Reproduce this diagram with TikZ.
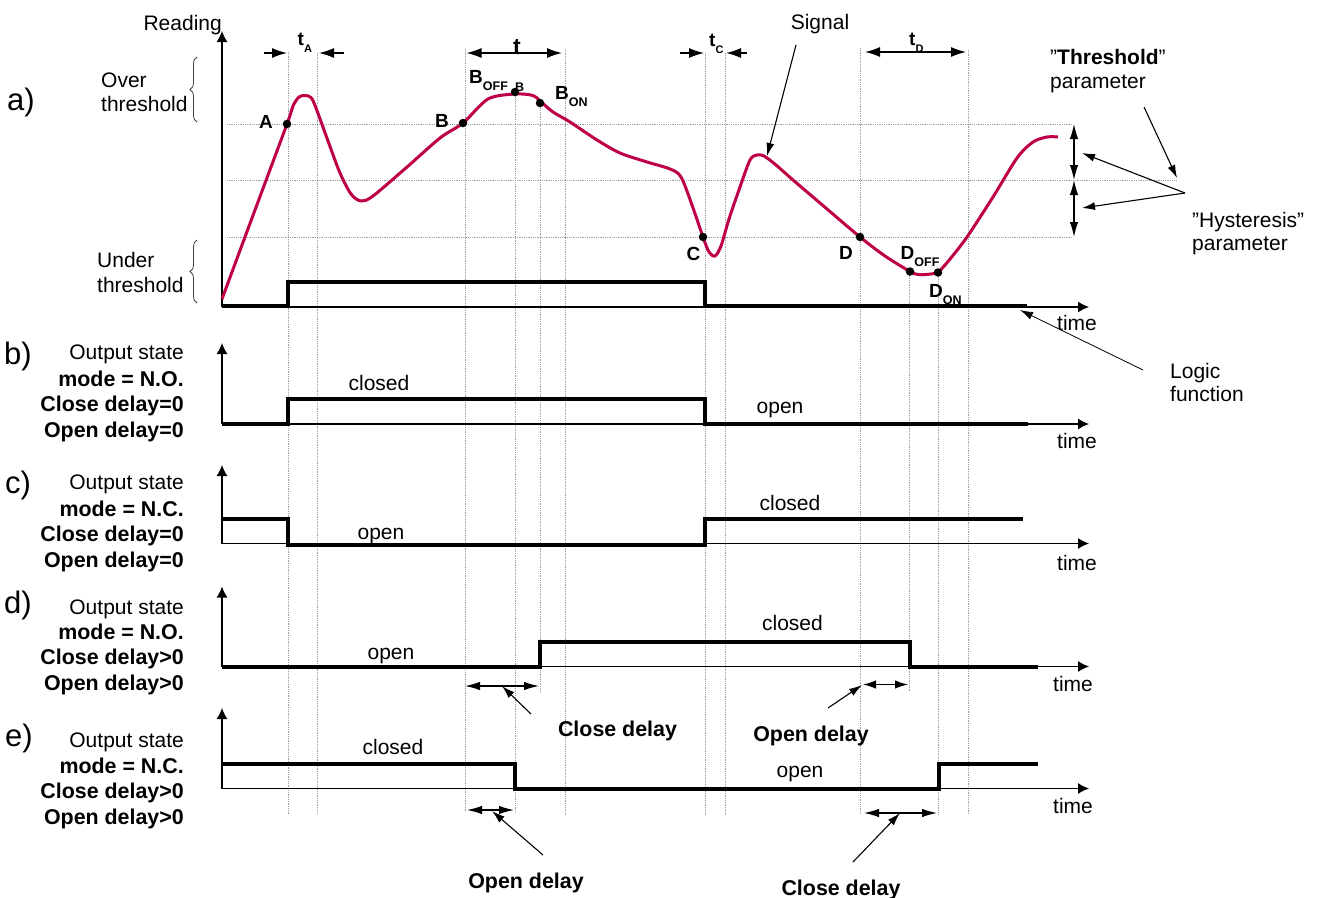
\documentclass[tikz,border=0pt]{standalone}
\usepackage{fontspec}
\setmainfont{Liberation Sans}
\usetikzlibrary{arrows.meta,decorations.pathreplacing}
\definecolor{sig}{RGB}{190,0,72}
\newcommand\lowsub[1]{\raisebox{-7pt}{\fontsize{12.5}{14}\selectfont\bfseries #1}}
\newcommand\tsub[1]{\raisebox{-7pt}{\fontsize{11}{13}\selectfont\bfseries #1}}
\begin{document}
\begin{tikzpicture}[x=1pt,y=-1pt,
  txt/.style={font=\fontsize{21}{24}\selectfont, inner sep=0pt},
  btxt/.style={font=\fontsize{21.4}{24}\selectfont\bfseries, inner sep=0pt},
  big/.style={font=\fontsize{31}{36}\selectfont, inner sep=0pt, anchor=base west},
  ptlbl/.style={font=\fontsize{19}{22}\selectfont\bfseries, inner sep=0pt, anchor=base west},
  gridln/.style={draw=gray!75, line width=0.8pt, densely dotted},
  axis/.style={line width=1.2pt, -{Latex[length=11pt,width=11pt]}},
  logic/.style={line width=4pt, line join=miter},
  dbl/.style={line width=1.3pt, {Latex[length=15pt,width=10pt]}-{Latex[length=15pt,width=10pt]}},
  sgl/.style={line width=1.3pt, -{Latex[length=15pt,width=10pt]}},
  ptr/.style={line width=1.1pt, -{Latex[length=13pt,width=8pt]}},
  thinptr/.style={line width=0.8pt, -{Latex[length=13pt,width=8pt]}},
  dotn/.style={circle, fill=black, inner sep=0pt, minimum size=8.5pt},
  brc/.style={draw=gray!50!black, line width=0.8pt, decorate, decoration={brace, amplitude=7pt}},
]
\useasboundingbox (0,0) rectangle (1320,897);

% ---------- grid lines ----------
\draw[gridln] (227,124) -- (1073,124);
\draw[gridln] (227,180) -- (1177,180);
\draw[gridln] (227,237) -- (1073,237);
\draw[gridln] (288,52) -- (288,814);
\draw[gridln] (317,53) -- (317,814);
\draw[gridln] (465,49) -- (465,812);
\draw[gridln] (515,92) -- (515,813);
\draw[gridln] (540,103) -- (540,692);
\draw[gridln] (565,49) -- (565,815);
\draw[gridln] (705,53) -- (705,815);
\draw[gridln] (725,53) -- (725,815);
\draw[gridln] (860,48) -- (860,814);
\draw[gridln] (909,271) -- (909,692);
\draw[gridln] (938,272) -- (938,814);
\draw[gridln] (968,50) -- (968,814);

% ---------- axes ----------
\coordinate (oa) at (222,307); \coordinate (ya) at (222,31); \coordinate (xa) at (1089,307);
\coordinate (ob) at (222,424); \coordinate (yb) at (222,343); \coordinate (xb) at (1089,424);
\coordinate (oc) at (222,543.5); \coordinate (yc) at (222,465); \coordinate (xc) at (1089,543.5);
\coordinate (od) at (222,666.5); \coordinate (yd) at (222,586.5); \coordinate (xd) at (1089,666.5);
\coordinate (oe) at (222,788.5); \coordinate (ye) at (222,708); \coordinate (xe) at (1089,788.5);
\foreach \s in {a,b,c,d,e}{
  \draw[axis] (o\s) -- (y\s);
  \draw[axis] (o\s) -- (x\s);
}

% ---------- logic traces ----------
\draw[logic] (222,305.5) -| (288,282) -| (705,306) -- (1027,306);
\draw[logic] (222,423.5) -| (288,398.5) -| (705,424) -- (1028,424);
\draw[logic] (222,518.5) -| (288,545) -| (705,518.5) -- (1023,518.5);
\draw[logic] (222,666.5) -| (540,641.5) -| (910,666.5) -- (1038,666.5);
\draw[logic] (222,763.5) -| (515,789) -| (939,763.5) -- (1038,763.5);

% ---------- signal ----------
\draw[sig, line width=3pt, line join=round] plot[smooth, tension=0.5] coordinates {
(222,299) (255,210) (287,124) (293,106) (299,97) (305,95.5) (311,97.5) (316,108)
(328,141) (340,173) (351,194) (361,201) (373,196) (407,167) (440,138) (463,123)
(488,99) (515,94) (533,95.5) (540,101) (553,112) (570,122) (597,140) (620,153)
(647,162) (670,169) (681,177) (692,205) (703,237) (709,252) (715,256) (721,246)
(729,219) (740,187) (750,160) (757,155) (764,156) (776,165) (793,180) (820,203)
(860,237) (885,256) (910,271.5) (918,274.5) (926,274.5) (938,272) (950,259)
(967,237) (993,197) (1017,158) (1033,142) (1047,137) (1058,137)};

% ---------- dots ----------
\node[dotn] (dA) at (287,124) {};
\node[dotn] (dB) at (463,123) {};
\node[dotn] (dBp) at (515,92) {};
\node[dotn] (dBon) at (540,103) {};
\node[dotn] (dC) at (703,237) {};
\node[dotn] (dD) at (860,237) {};
\node[dotn] (dDoff) at (910,271.5) {};
\node[dotn] (dDon) at (938,272.5) {};

% ---------- point labels ----------
\node[ptlbl] (lA) at (259,128.3) {A};
\node[ptlbl] (lB) at (435,127.7) {B};
\node[ptlbl] (lBoff) at (469,83.3) {B\lowsub{OFF}};
\node[ptlbl, font=\fontsize{12.5}{14}\selectfont\bfseries] (lBs) at (515,91) {B};
\node[ptlbl] (lBon) at (555,99) {B\lowsub{ON}};
\node[ptlbl] (lC) at (686.5,260) {C};
\node[ptlbl] (lD) at (839,259.3) {D};
\node[ptlbl] (lDoff) at (900.5,259.3) {D\lowsub{OFF}};
\node[ptlbl] (lDon) at (929,297.7) {D\lowsub{ON}};

% ---------- time intervals ----------
\node[ptlbl] (ltA) at (297.5,45) {t\tsub{A}};
\node[ptlbl, anchor=base, font=\fontsize{23}{26}\selectfont\bfseries] (ltB) at (517,54) {t};
\node[ptlbl] (ltC) at (709,46.7) {t\tsub{C}};
\node[ptlbl] (ltD) at (909,45) {t\tsub{D}};
\coordinate (tAl1) at (264,53); \coordinate (tAl2) at (287,53);
\coordinate (tAr1) at (344,53); \coordinate (tAr2) at (319,53);
\draw[sgl] (tAl1) -- (tAl2);
\draw[sgl] (tAr1) -- (tAr2);
\coordinate (tB1) at (466.5,53); \coordinate (tB2) at (562,53);
\draw[dbl] (tB1) -- (tB2);
\coordinate (tCl1) at (680,53); \coordinate (tCl2) at (704,53);
\coordinate (tCr1) at (747,53); \coordinate (tCr2) at (726,53);
\draw[sgl] (tCl1) -- (tCl2);
\draw[sgl] (tCr1) -- (tCr2);
\coordinate (tD1) at (865,52); \coordinate (tD2) at (966,52);
\draw[dbl] (tD1) -- (tD2);

% ---------- a) labels ----------
\node[txt, anchor=base east] (reading) at (222,30) {Reading};
\node[big] (la) at (7,110) {a)};
\node[txt, anchor=base west] (over1) at (101,87.5) {Over};
\node[txt, anchor=base west] (over2) at (101,111) {threshold};
\node[txt, anchor=base west] (under1) at (97,267.5) {Under};
\node[txt, anchor=base west] (under2) at (97,292.5) {threshold};
\draw[brc] (197,122) -- (197,57);
\draw[brc] (197,303) -- (197,240);

\node[txt, anchor=base] (signal) at (820,29) {Signal};
\coordinate (sigS) at (796,45); \coordinate (sigE) at (767,156);
\draw[ptr] (sigS) -- (sigE);

\node[txt, anchor=base west] (thr1) at (1050,64) {”\textbf{Threshold}”};
\node[txt, anchor=base west] (thr2) at (1050,88) {parameter};
\coordinate (thrS) at (1144,107); \coordinate (thrE) at (1177,178);
\draw[ptr] (thrS) -- (thrE);

\coordinate (h1) at (1074,124); \coordinate (h2) at (1074,180); \coordinate (h3) at (1074,237);
\draw[dbl, {Latex[length=15pt,width=8.5pt]}-{Latex[length=15pt,width=8.5pt]}] (h1) -- (h2);
\draw[dbl, {Latex[length=15pt,width=8.5pt]}-{Latex[length=15pt,width=8.5pt]}] (h2) -- (h3);
\node[txt, anchor=base west] (hys1) at (1192,227.7) {”Hysteresis”};
\node[txt, anchor=base west] (hys2) at (1192,250) {parameter};
\coordinate (hysS) at (1185,193); \coordinate (hysE1) at (1082,153); \coordinate (hysE2) at (1082,208);
\draw[ptr] (hysS) -- (hysE1);
\draw[ptr] (hysS) -- (hysE2);

\node[txt, anchor=base west] (logic1) at (1170,378.3) {Logic};
\node[txt, anchor=base west] (logic2) at (1170,401.7) {function};
\coordinate (logS) at (1143,370); \coordinate (logE) at (1020,310);
\draw[thinptr] (logS) -- (logE);

% ---------- time labels ----------
\node[txt, anchor=base west] (tma) at (1057,330) {time};
\node[txt, anchor=base west] (tmb) at (1057,448.3) {time};
\node[txt, anchor=base west] (tmc) at (1057,570) {time};
\node[txt, anchor=base west] (tmd) at (1053,691.7) {time};
\node[txt, anchor=base west] (tme) at (1053,813.3) {time};

% ---------- b) ----------
\node[big] (lb) at (4,364.5) {b)};
\node[txt, anchor=base east] (bOut) at (184,359) {Output state};
\node[btxt, anchor=base east] (bMode) at (184,386) {mode = N.O.};
\node[btxt, anchor=base east] (bCd) at (184,411) {Close delay=0};
\node[btxt, anchor=base east] (bOd) at (184,437.5) {Open delay=0};
\node[txt, anchor=base] (bClosed) at (379,390) {closed};
\node[txt, anchor=base] (bOpen) at (780,413.5) {open};

% ---------- c) ----------
\node[big] (lc) at (5,493) {c)};
\node[txt, anchor=base east] (cOut) at (184,489) {Output state};
\node[btxt, anchor=base east] (cMode) at (184,516) {mode = N.C.};
\node[btxt, anchor=base east] (cCd) at (184,541) {Close delay=0};
\node[btxt, anchor=base east] (cOd) at (184,567.5) {Open delay=0};
\node[txt, anchor=base] (cOpen) at (381,539) {open};
\node[txt, anchor=base] (cClosed) at (790,510) {closed};

% ---------- d) ----------
\node[big] (ld) at (4,613) {d)};
\node[txt, anchor=base east] (dOut) at (184,614.5) {Output state};
\node[btxt, anchor=base east] (dMode) at (184,639.5) {mode = N.O.};
\node[btxt, anchor=base east] (dCd) at (184,664.5) {Close delay>0};
\node[btxt, anchor=base east] (dOd) at (184,690.5) {Open delay>0};
\node[txt, anchor=base] (dOpen) at (391,659) {open};
\node[txt, anchor=base] (dClosed) at (792.5,630) {closed};
\node[btxt, anchor=base] (dCdl) at (617.5,736.7) {Close delay};
\node[btxt, anchor=base] (dOdl) at (811,741.7) {Open delay};
\coordinate (dc1) at (465,686); \coordinate (dc2) at (539,686);
\draw[dbl, {Latex[length=15pt,width=8.5pt]}-{Latex[length=15pt,width=8.5pt]}] (dc1) -- (dc2);
\coordinate (dcS) at (531,714); \coordinate (dcE) at (502,686);
\draw[ptr] (dcS) -- (dcE);
\coordinate (do1) at (863,684.5); \coordinate (do2) at (908,684.5);
\draw[dbl, {Latex[length=13pt,width=8.5pt]}-{Latex[length=13pt,width=8.5pt]}] (do1) -- (do2);
\coordinate (doS) at (828,708); \coordinate (doE) at (862,685);
\draw[ptr] (doS) -- (doE);

% ---------- e) ----------
\node[big] (le) at (5,746) {e)};
\node[txt, anchor=base east] (eOut) at (184,747.5) {Output state};
\node[btxt, anchor=base east] (eMode) at (184,773.5) {mode = N.C.};
\node[btxt, anchor=base east] (eCd) at (184,798.5) {Close delay>0};
\node[btxt, anchor=base east] (eOd) at (184,824) {Open delay>0};
\node[txt, anchor=base] (eClosed) at (393,754.5) {closed};
\node[txt, anchor=base] (eOpen) at (800,777.5) {open};
\node[btxt, anchor=base] (eOdl) at (526,888.3) {Open delay};
\node[btxt, anchor=base] (eCdl) at (841,895) {Close delay};
\coordinate (eo1) at (467,810); \coordinate (eo2) at (514,810);
\draw[dbl, {Latex[length=15pt,width=8.5pt]}-{Latex[length=15pt,width=8.5pt]}] (eo1) -- (eo2);
\coordinate (eoS) at (543,855); \coordinate (eoE) at (492,811);
\draw[ptr] (eoS) -- (eoE);
\coordinate (ec1) at (864,813); \coordinate (ec2) at (937,813);
\draw[dbl, {Latex[length=15pt,width=8.5pt]}-{Latex[length=15pt,width=8.5pt]}] (ec1) -- (ec2);
\coordinate (ecS) at (853,862); \coordinate (ecE) at (900,813);
\draw[ptr] (ecS) -- (ecE);
\end{tikzpicture}
\end{document}
